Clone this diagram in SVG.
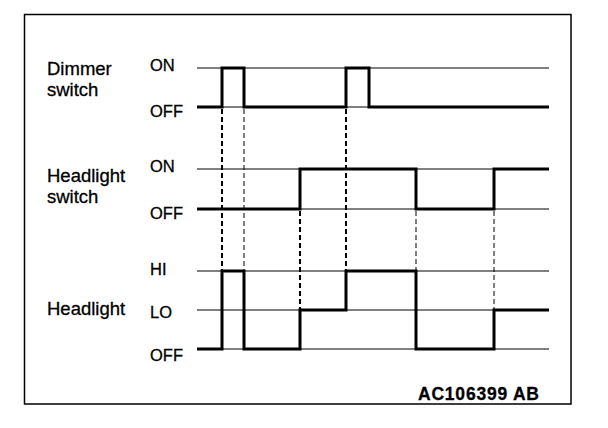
<svg xmlns="http://www.w3.org/2000/svg" width="608" height="428" viewBox="0 0 608 428">
<style>
text{font-family:"Liberation Sans",Arial,sans-serif;fill:#000;stroke:#000;stroke-width:0.3}
.lbl{font-size:18.5px}
.st{font-size:16.5px}
.ref{stroke:#000;stroke-width:1;fill:none}
.wave{stroke:#000;stroke-width:3;fill:none;stroke-linejoin:miter;stroke-linecap:butt}
.dk{stroke:#000;stroke-width:2;stroke-dasharray:5 3;fill:none}
.dt{stroke:#000;stroke-width:1;stroke-dasharray:5 3;fill:none}
.id{font-weight:bold;font-size:17.5px}
</style>
<rect x="24.5" y="14.5" width="546.5" height="389.5" fill="#fff" stroke="#000" stroke-width="1.5"/>
<g id="dimmer-switch">
<text class="lbl" x="47" y="75">Dimmer</text>
<text class="lbl" x="47" y="95.5">switch</text>
<text class="st" x="150" y="70.5">ON</text>
<text class="st" x="150" y="116.5">OFF</text>
<line class="ref" x1="197" y1="68" x2="549" y2="68"/>
<line class="ref" x1="197" y1="107" x2="549" y2="107"/>
<polyline class="wave" points="197,107 222,107 222,68 244,68 244,107 346,107 346,68 369,68 369,107 549,107"/>
</g>
<g id="headlight-switch">
<text class="lbl" x="47" y="182">Headlight</text>
<text class="lbl" x="47" y="203">switch</text>
<text class="st" x="150" y="171.5">ON</text>
<text class="st" x="150" y="218.5">OFF</text>
<line class="ref" x1="197" y1="169" x2="549" y2="169"/>
<line class="ref" x1="197" y1="209" x2="549" y2="209"/>
<polyline class="wave" points="197,209 300,209 300,169 416,169 416,209 494,209 494,169 549,169"/>
</g>
<g id="headlight">
<text class="lbl" x="47" y="315">Headlight</text>
<text class="st" x="150" y="275">HI</text>
<text class="st" x="150" y="317.5">LO</text>
<text class="st" x="150" y="361">OFF</text>
<line class="ref" x1="197" y1="271" x2="549" y2="271"/>
<line class="ref" x1="197" y1="310" x2="549" y2="310"/>
<line class="ref" x1="197" y1="349" x2="549" y2="349"/>
<polyline class="wave" points="197,349 222,349 222,271 244,271 244,349 300,349 300,310 346,310 346,271 416,271 416,349 494,349 494,310 549,310"/>
</g>
<g id="connectors">
<line class="dk" x1="222" y1="109" x2="222" y2="271"/>
<line class="dt" x1="244" y1="109" x2="244" y2="271"/>
<line class="dk" x1="300" y1="211" x2="300" y2="310"/>
<line class="dk" x1="346" y1="109" x2="346" y2="271"/>
<line class="dt" x1="416" y1="211" x2="416" y2="271"/>
<line class="dt" x1="494" y1="211" x2="494" y2="310"/>
</g>
<text class="id" x="418" y="400" textLength="121" lengthAdjust="spacing">AC106399 AB</text>
</svg>
